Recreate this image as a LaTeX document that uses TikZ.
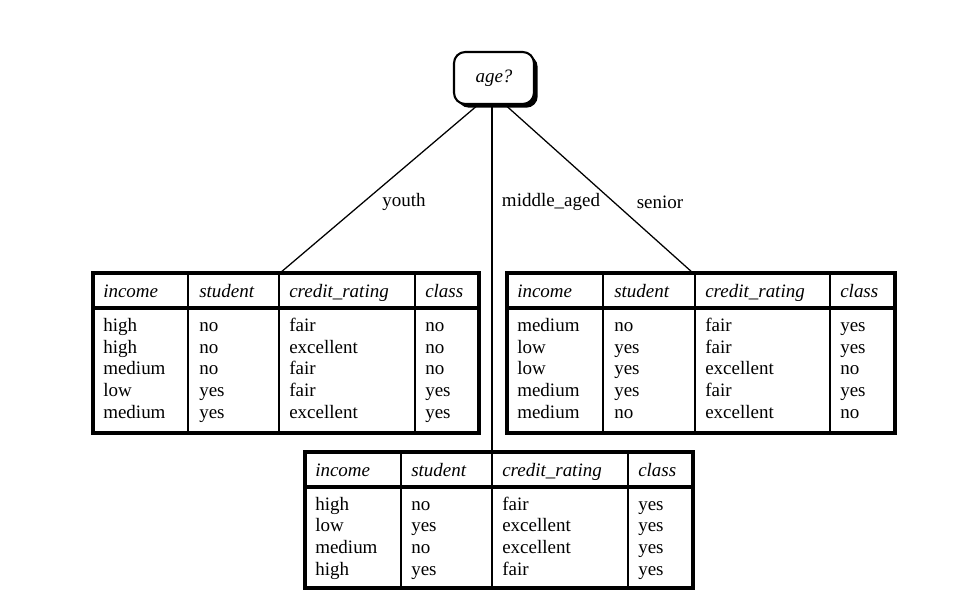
\documentclass[tikz,border=0pt]{standalone}
\usepackage{fontspec}
\setmainfont{Liberation Serif}
\usetikzlibrary{shadows}

\begin{document}
\begin{tikzpicture}[x=0.025cm,y=-0.025cm,
    every node/.style={font=\fontsize{13.5}{15.3}\selectfont},
    cell/.style={anchor=base west,align=left,inner sep=0pt},
    head/.style={cell,font=\fontsize{13.5}{15.3}\selectfont\itshape},
    edge/.style={line width=0.9pt},
    frame/.style={line width=2.3pt},
    rule/.style={line width=1.5pt}]
  \useasboundingbox (0,0) rectangle (964,601);

  % branches from the root
  \coordinate (hub) at (492,93);
  \coordinate (youthtop) at (280,273);
  \coordinate (middletop) at (492,452);
  \coordinate (seniortop) at (693,273);
  \draw[edge] (hub) -- (youthtop);
  \draw[edge] (hub) -- (middletop);
  \draw[edge] (hub) -- (seniortop);

  \node[draw,fill=white,rounded corners=8pt,line width=1.5pt,
        minimum width=2.0cm,minimum height=1.3cm,
        drop shadow={shadow xshift=2.6pt,shadow yshift=-2.6pt,fill=black,opacity=1}]
        (age) at (494,78) {\itshape age?};

  \node (lyouth) at (404,202) {youth};
  \node (lmiddle) at (551,202) {middle\_aged};
  \node (lsenior) at (660,202) {senior};

  % youth table (cells sit on the baseline of their last row)
  \draw[frame] (93,273) rectangle (479,433);
  \draw[frame] (93,308) -- (479,308);
  \foreach \x in {188,279,415}
    \draw[rule] (\x,273) -- (\x,433);
  \node[head] (yh1) at (103,297) {income};
  \node[head] (yh2) at (199,297) {student};
  \node[head] (yh3) at (289,297) {credit\_rating};
  \node[head] (yh4) at (425,297) {class};
  \node[cell] (yc1) at (103,418) {high\\high\\medium\\low\\medium};
  \node[cell] (yc2) at (199,418) {no\\no\\no\\yes\\yes};
  \node[cell] (yc3) at (289,418) {fair\\excellent\\fair\\fair\\excellent};
  \node[cell] (yc4) at (425,418) {no\\no\\no\\yes\\yes};

  % senior table
  \draw[frame] (507,273) rectangle (895,433);
  \draw[frame] (507,308) -- (895,308);
  \foreach \x in {603,695,830}
    \draw[rule] (\x,273) -- (\x,433);
  \node[head] (sh1) at (517,297) {income};
  \node[head] (sh2) at (614,297) {student};
  \node[head] (sh3) at (705,297) {credit\_rating};
  \node[head] (sh4) at (840,297) {class};
  \node[cell] (sc1) at (517,418) {medium\\low\\low\\medium\\medium};
  \node[cell] (sc2) at (614,418) {no\\yes\\yes\\yes\\no};
  \node[cell] (sc3) at (705,418) {fair\\fair\\excellent\\fair\\excellent};
  \node[cell] (sc4) at (840,418) {yes\\yes\\no\\yes\\no};

  % middle_aged table
  \draw[frame] (305,452) rectangle (693,588);
  \draw[frame] (305,487) -- (693,487);
  \foreach \x in {401,492,628}
    \draw[rule] (\x,452) -- (\x,588);
  \node[head] (mh1) at (315,476) {income};
  \node[head] (mh2) at (411,476) {student};
  \node[head] (mh3) at (502,476) {credit\_rating};
  \node[head] (mh4) at (638,476) {class};
  \node[cell] (mc1) at (315,575) {high\\low\\medium\\high};
  \node[cell] (mc2) at (411,575) {no\\yes\\no\\yes};
  \node[cell] (mc3) at (502,575) {fair\\excellent\\excellent\\fair};
  \node[cell] (mc4) at (638,575) {yes\\yes\\yes\\yes};
\end{tikzpicture}
\end{document}
